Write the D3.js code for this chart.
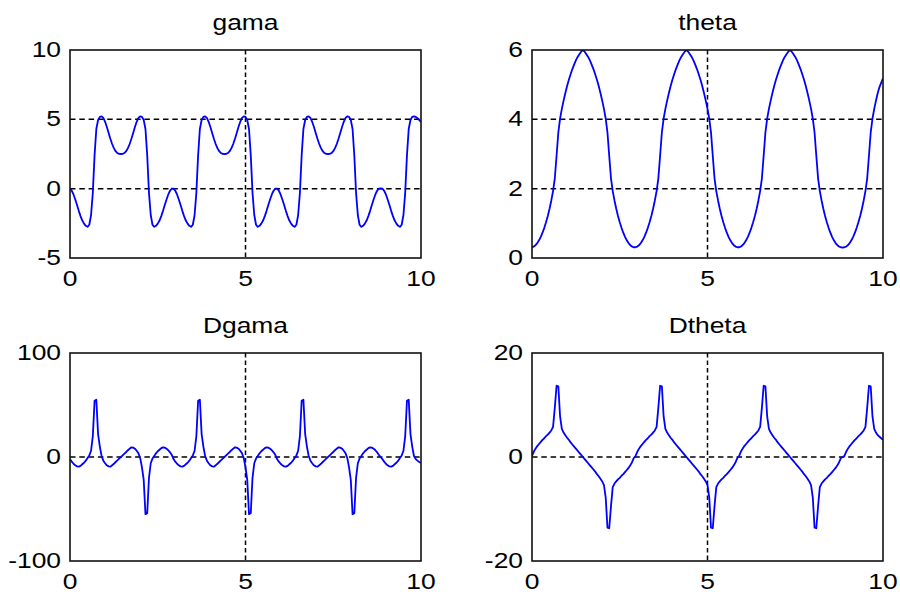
<!DOCTYPE html>
<html lang="en">
<head>
    <meta charset="UTF-8">
    <title>gama / theta</title>
    <style>
        body { margin: 0; background: #fff; }
        svg text { font-family: "Liberation Sans", Arial, sans-serif; font-size: 22px; fill: #000; }
    </style>
</head>
<body>
    <script src="https://d3js.org/d3.v7.min.js"></script>
    <div id="chart"></div>

    <script>
        // sampled every 0.05 from 0 to 10
        const time = d3.range(201).map(i => +(i * 0.05).toFixed(2));

        const gama = [
            0.00,-0.15,-0.42,-0.78,-1.18,-1.60,-1.98,-2.30,-2.52,-2.68,-2.75,-2.60,-1.90,-0.30,2.40,4.30,4.95,5.18,5.22,5.10,
            4.82,4.45,4.02,3.60,3.22,2.92,2.70,2.57,2.51,2.50,2.51,2.57,2.70,2.92,3.22,3.60,4.02,4.45,4.82,5.10,
            5.22,5.18,4.95,4.30,2.40,-0.30,-1.90,-2.60,-2.75,-2.68,-2.52,-2.30,-1.98,-1.60,-1.18,-0.78,-0.42,-0.15,0.00,
            0.00,-0.15,-0.42,-0.78,-1.18,-1.60,-1.98,-2.30,-2.52,-2.68,-2.75,-2.60,-1.90,-0.30,2.40,4.30,4.95,5.18,5.22,5.10,
            4.82,4.45,4.02,3.60,3.22,2.92,2.70,2.57,2.51,2.50,2.51,2.57,2.70,2.92,3.22,3.60,4.02,4.45,4.82,5.10,
            5.22,5.18,4.95,4.30,2.40,-0.30,-1.90,-2.60,-2.75,-2.68,-2.52,-2.30,-1.98,-1.60,-1.18,-0.78,-0.42,-0.15,0.00,
            0.00,-0.15,-0.42,-0.78,-1.18,-1.60,-1.98,-2.30,-2.52,-2.68,-2.75,-2.60,-1.90,-0.30,2.40,4.30,4.95,5.18,5.22,5.10,
            4.82,4.45,4.02,3.60,3.22,2.92,2.70,2.57,2.51,2.50,2.51,2.57,2.70,2.92,3.22,3.60,4.02,4.45,4.82,5.10,
            5.22,5.18,4.95,4.30,2.40,-0.30,-1.90,-2.60,-2.75,-2.68,-2.52,-2.30,-1.98,-1.60,-1.18,-0.78,-0.42,-0.15,0.00,
            0.02,
            0.00,-0.15,-0.42,-0.78,-1.18,-1.60,-1.98,-2.30,-2.52,-2.68,-2.75,-2.60,-1.90,-0.30,2.40,4.30,4.95,5.18,
            5.22,5.18,5.08,4.95,4.80
        ];

        const theta = [
            0.31,0.33,0.37,0.43,0.51,0.61,0.73,0.87,1.03,1.21,1.42,1.66,1.93,2.30,2.95,3.62,4.02,4.30,4.54,4.76,
            4.96,5.14,5.30,5.45,5.58,5.70,5.80,5.88,5.95,6.00,5.95,5.88,5.80,5.70,5.58,5.45,5.30,5.14,4.96,4.76,
            4.54,4.30,4.02,3.62,2.95,2.30,1.93,1.66,1.42,1.21,1.03,0.87,0.73,0.61,0.51,0.43,0.37,0.33,0.31,
            0.31,0.33,0.37,0.43,0.51,0.61,0.73,0.87,1.03,1.21,1.42,1.66,1.93,2.30,2.95,3.62,4.02,4.30,4.54,4.76,
            4.96,5.14,5.30,5.45,5.58,5.70,5.80,5.88,5.95,6.00,5.95,5.88,5.80,5.70,5.58,5.45,5.30,5.14,4.96,4.76,
            4.54,4.30,4.02,3.62,2.95,2.30,1.93,1.66,1.42,1.21,1.03,0.87,0.73,0.61,0.51,0.43,0.37,0.33,0.31,
            0.31,0.33,0.37,0.43,0.51,0.61,0.73,0.87,1.03,1.21,1.42,1.66,1.93,2.30,2.95,3.62,4.02,4.30,4.54,4.76,
            4.96,5.14,5.30,5.45,5.58,5.70,5.80,5.88,5.95,6.00,5.95,5.88,5.80,5.70,5.58,5.45,5.30,5.14,4.96,4.76,
            4.54,4.30,4.02,3.62,2.95,2.30,1.93,1.66,1.42,1.21,1.03,0.87,0.73,0.61,0.51,0.43,0.37,0.33,0.31,
            0.30,
            0.31,0.33,0.37,0.43,0.51,0.61,0.73,0.87,1.03,1.21,1.42,1.66,1.93,2.30,2.95,3.62,4.02,4.30,
            4.54,4.76,4.93,5.06,5.18
        ];

        const dgama = [
            -2.0,-4.5,-6.5,-8.0,-9.0,-9.3,-8.5,-7.0,-5.5,-3.5,-1.0,1.5,6.0,20.0,54.0,55.0,22.0,10.0,1.0,-3.5,
            -6.0,-8.0,-9.0,-9.3,-8.0,-6.5,-4.8,-3.2,-1.6,0.0,1.6,3.2,4.8,6.5,8.0,9.3,9.0,8.0,6.0,3.5,
            -1.0,-10.0,-22.0,-55.0,-54.0,-20.0,-6.0,-1.5,1.0,3.5,5.5,7.0,8.5,9.3,9.0,8.0,6.5,4.5,2.0,
            -2.0,-4.5,-6.5,-8.0,-9.0,-9.3,-8.5,-7.0,-5.5,-3.5,-1.0,1.5,6.0,20.0,54.0,55.0,22.0,10.0,1.0,-3.5,
            -6.0,-8.0,-9.0,-9.3,-8.0,-6.5,-4.8,-3.2,-1.6,0.0,1.6,3.2,4.8,6.5,8.0,9.3,9.0,8.0,6.0,3.5,
            -1.0,-10.0,-22.0,-55.0,-54.0,-20.0,-6.0,-1.5,1.0,3.5,5.5,7.0,8.5,9.3,9.0,8.0,6.5,4.5,2.0,
            -2.0,-4.5,-6.5,-8.0,-9.0,-9.3,-8.5,-7.0,-5.5,-3.5,-1.0,1.5,6.0,20.0,54.0,55.0,22.0,10.0,1.0,-3.5,
            -6.0,-8.0,-9.0,-9.3,-8.0,-6.5,-4.8,-3.2,-1.6,0.0,1.6,3.2,4.8,6.5,8.0,9.3,9.0,8.0,6.0,3.5,
            -1.0,-10.0,-22.0,-55.0,-54.0,-20.0,-6.0,-1.5,1.0,3.5,5.5,7.0,8.5,9.3,9.0,8.0,6.5,4.5,2.0,
            0.0,
            -2.0,-4.5,-6.5,-8.0,-9.0,-9.3,-8.5,-7.0,-5.5,-3.5,-1.0,1.5,6.0,20.0,54.0,55.0,22.0,10.0,
            1.0,-2.0,-3.5,-4.8,-5.8
        ];

        const dtheta = [
            0.2,1.0,1.6,2.1,2.5,2.9,3.3,3.6,4.0,4.3,4.7,5.1,5.8,9.5,13.7,13.6,7.8,5.4,4.7,4.2,
            3.7,3.3,2.8,2.4,2.0,1.6,1.2,0.8,0.4,0.0,-0.4,-0.8,-1.2,-1.6,-2.0,-2.4,-2.8,-3.3,-3.7,-4.2,
            -4.7,-5.4,-7.8,-13.6,-13.7,-9.5,-5.8,-5.1,-4.7,-4.3,-4.0,-3.6,-3.3,-2.9,-2.5,-2.1,-1.6,-1.0,-0.2,
            0.2,1.0,1.6,2.1,2.5,2.9,3.3,3.6,4.0,4.3,4.7,5.1,5.8,9.5,13.7,13.6,7.8,5.4,4.7,4.2,
            3.7,3.3,2.8,2.4,2.0,1.6,1.2,0.8,0.4,0.0,-0.4,-0.8,-1.2,-1.6,-2.0,-2.4,-2.8,-3.3,-3.7,-4.2,
            -4.7,-5.4,-7.8,-13.6,-13.7,-9.5,-5.8,-5.1,-4.7,-4.3,-4.0,-3.6,-3.3,-2.9,-2.5,-2.1,-1.6,-1.0,-0.2,
            0.2,1.0,1.6,2.1,2.5,2.9,3.3,3.6,4.0,4.3,4.7,5.1,5.8,9.5,13.7,13.6,7.8,5.4,4.7,4.2,
            3.7,3.3,2.8,2.4,2.0,1.6,1.2,0.8,0.4,0.0,-0.4,-0.8,-1.2,-1.6,-2.0,-2.4,-2.8,-3.3,-3.7,-4.2,
            -4.7,-5.4,-7.8,-13.6,-13.7,-9.5,-5.8,-5.1,-4.7,-4.3,-4.0,-3.6,-3.3,-2.9,-2.5,-2.1,-1.6,-1.0,-0.2,
            0.0,
            0.2,1.0,1.6,2.1,2.5,2.9,3.3,3.6,4.0,4.3,4.7,5.1,5.8,9.5,13.7,13.6,7.8,5.4,
            4.7,4.2,3.9,3.6,3.3
        ];

        const xTicks = [0, 5, 10];
        const gamaTicks = [-5, 0, 5, 10];
        const thetaTicks = [0, 2, 4, 6];
        const dgamaTicks = [-100, 0, 100];
        const dthetaTicks = [-20, 0, 20];

        const panels = [
            { title: "gama",   values: gama,   ticks: gamaTicks,   left: 70,  top: 50 },
            { title: "theta",  values: theta,  ticks: thetaTicks,  left: 532, top: 50 },
            { title: "Dgama",  values: dgama,  ticks: dgamaTicks,  left: 70,  top: 353 },
            { title: "Dtheta", values: dtheta, ticks: dthetaTicks, left: 532, top: 353 }
        ];

        const width = 351;
        const height = 208;
        const stretch = 1.2; // the picture's text is a bit wide

        const svg = d3.select("#chart").append("svg")
            .attr("width", 900)
            .attr("height", 597);

        panels.forEach((p, idx) => {
            const g = svg.append("g")
                .attr("transform", `translate(${p.left},${p.top})`);

            const x = d3.scaleLinear()
                .domain([xTicks[0], xTicks[xTicks.length - 1]])
                .range([0, width]);

            const y = d3.scaleLinear()
                .domain([p.ticks[0], p.ticks[p.ticks.length - 1]])
                .range([height, 0]);

            // grid, only inside the box
            g.selectAll(".hgrid")
                .data(p.ticks.slice(1, -1))
                .enter().append("line")
                .attr("x1", 0).attr("x2", width)
                .attr("y1", d => y(d)).attr("y2", d => y(d))
                .attr("stroke", "#000")
                .attr("stroke-width", 1.5)
                .attr("stroke-dasharray", "5.5,3.8");

            g.selectAll(".vgrid")
                .data(xTicks.slice(1, -1))
                .enter().append("line")
                .attr("x1", d => x(d)).attr("x2", d => x(d))
                .attr("y1", 0).attr("y2", height)
                .attr("stroke", "#000")
                .attr("stroke-width", 1.5)
                .attr("stroke-dasharray", "4.5,3");

            g.append("clipPath")
                .attr("id", "clip" + idx)
                .append("rect")
                .attr("width", width)
                .attr("height", height);

            const line = d3.line()
                .x((d, i) => x(time[i]))
                .y(d => y(d));

            g.append("path")
                .datum(p.values)
                .attr("clip-path", `url(#clip${idx})`)
                .attr("fill", "none")
                .attr("stroke", "#0000ff")
                .attr("stroke-width", 1.8)
                .attr("stroke-linejoin", "round")
                .attr("d", line);

            // box
            g.append("rect")
                .attr("width", width)
                .attr("height", height)
                .attr("fill", "none")
                .attr("stroke", "#111")
                .attr("stroke-width", 1.6);

            // tick labels
            g.selectAll(".ylab")
                .data(p.ticks)
                .enter().append("text")
                .attr("text-anchor", "end")
                .attr("transform", d => `translate(-9,${y(d) + 7}) scale(${stretch},1)`)
                .text(d => d);

            g.selectAll(".xlab")
                .data(xTicks)
                .enter().append("text")
                .attr("text-anchor", "middle")
                .attr("transform", d => `translate(${x(d)},${height + 27.5}) scale(${stretch},1)`)
                .text(d => d);

            g.append("text")
                .attr("text-anchor", "middle")
                .attr("transform", `translate(${width / 2},-20) scale(${stretch},1)`)
                .text(p.title);
        });
    </script>
</body>
</html>
